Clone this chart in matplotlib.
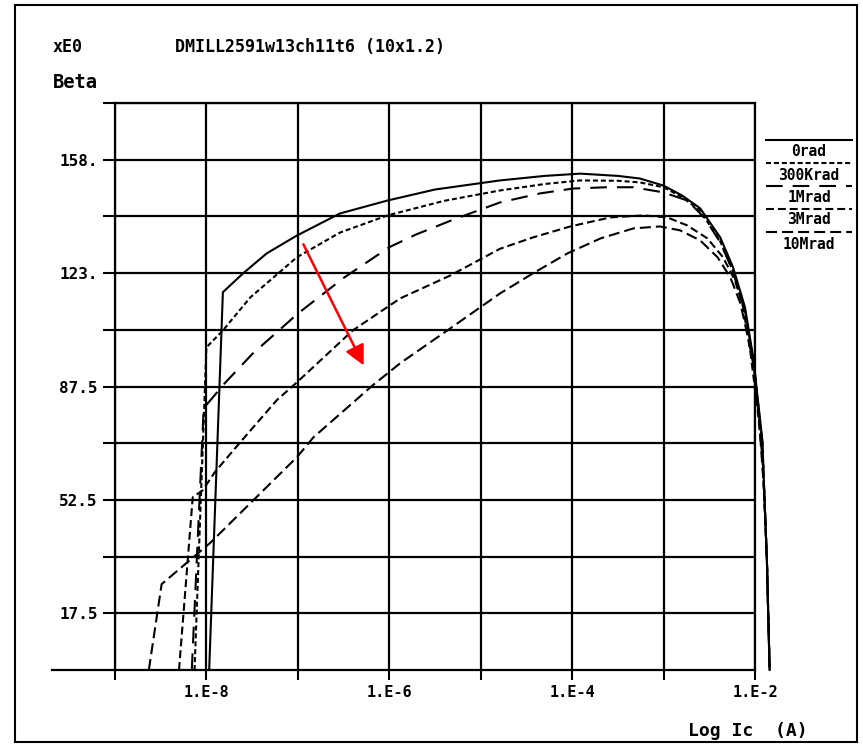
import matplotlib
matplotlib.use("Agg")
import matplotlib.pyplot as plt
from matplotlib.lines import Line2D
from matplotlib.patches import Rectangle

# log10(Ic) and Beta
logic_0rad = [-7.97, -7.82, -7.60, -7.34, -7.01, -6.54, -6.02, -5.50, -4.79, -4.30,
              -3.91, -3.50, -3.26, -3.00, -2.80, -2.60, -2.38, -2.24, -2.11, -2.02,
              -1.92, -1.87, -1.84]
beta_0rad = [0, 116.6, 122.4, 128.6, 134.1, 140.9, 144.9, 148.3, 151.1, 152.5,
             153.2, 152.5, 151.7, 149.5, 146.5, 142.5, 133.5, 124.3, 112.0, 96.5,
             71.0, 34.0, 0]

logic_300k = [-8.13, -8.00, -7.82, -7.52, -7.01, -6.54, -6.02, -5.40, -4.79, -4.30,
              -3.91, -3.50, -3.26, -3.00, -2.80, -2.60, -2.38, -2.24, -2.11, -2.02,
              -1.92, -1.87, -1.84]
beta_300k = [0, 99.6, 104.8, 115.0, 127.4, 135.0, 140.3, 144.8, 148.0, 150.0,
             151.1, 151.0, 150.5, 149.0, 146.0, 141.8, 132.3, 123.0, 111.0, 95.5,
             70.5, 34.0, 0]

logic_1m = [-8.16, -8.03, -7.80, -7.50, -7.00, -6.50, -6.00, -5.70, -5.30, -4.79,
            -4.35, -3.99, -3.62, -3.33, -3.00, -2.74, -2.55, -2.38, -2.24, -2.11,
            -2.02, -1.92, -1.87, -1.84]
beta_1m = [0, 80.8, 88.5, 97.5, 110.0, 121.0, 130.5, 134.5, 139.0, 144.3,
           147.1, 148.6, 149.0, 149.0, 147.4, 144.9, 139.5, 132.0, 123.0, 111.0,
           95.5, 70.0, 34.0, 0]

logic_3m = [-8.30, -8.15, -8.04, -7.91, -7.63, -7.23, -7.01, -6.40, -5.88, -5.33,
            -4.79, -4.43, -4.02, -3.58, -3.22, -2.96, -2.74, -2.52, -2.35, -2.22,
            -2.13, -2.05, -1.97, -1.92, -1.87, -1.84]
beta_3m = [0, 53.3, 55.5, 61.0, 70.3, 83.3, 88.8, 104.8, 114.7, 121.8,
           130.0, 133.5, 136.9, 139.7, 140.3, 139.7, 137.2, 133.2, 127.4, 120.3,
           112.0, 98.0, 80.0, 66.0, 34.0, 0]

logic_10m = [-8.63, -8.49, -7.96, -7.01, -6.83, -6.18, -5.88, -5.33, -4.79, -4.43,
             -4.05, -3.69, -3.33, -3.04, -2.82, -2.60, -2.41, -2.27, -2.16, -2.07,
             -2.00, -1.95, -1.90, -1.87, -1.84]
beta_10m = [0, 26.5, 39.2, 65.7, 71.8, 87.9, 94.7, 105.5, 116.2, 122.4,
            128.6, 133.2, 136.3, 136.9, 135.7, 132.6, 127.4, 121.2, 113.2, 101.8,
            91.6, 75.0, 55.0, 34.0, 0]

dose_labels = ["0rad", "300Krad", "1Mrad", "3Mrad", "10Mrad"]

x_ticks = [-9, -8, -7, -6, -5, -4, -3, -2]
x_ticklabels = ["", "1.E-8", "", "1.E-6", "", "1.E-4", "", "1.E-2"]
y_ticks = [17.5, 35, 52.5, 70, 87.5, 105, 122.5, 140, 157.5, 175]
y_ticklabels = ["17.5", "", "52.5", "", "87.5", "", "123.", "", "158.", ""]

arrow_tail = (-6.94, 131.4)
arrow_head = (-6.28, 94.0)

W, H = 863, 747
FONT = "DejaVu Sans Mono"


def fx(px):
    return px / W


def fy(py):
    return 1 - py / H


def main():
    fig = plt.figure(figsize=(W / 100, H / 100), dpi=100)
    fig.patch.set_facecolor("white")
    ax = fig.add_axes([fx(115), fy(670), (755 - 115) / W, (670 - 103) / H])

    lw = 1.5
    styles = [
        (logic_0rad, beta_0rad, "-"),
        (logic_300k, beta_300k, (0, (2.4, 1.4))),
        (logic_1m, beta_1m, (0, (8.0, 4.8))),
        (logic_3m, beta_3m, (0, (3.8, 1.9))),
        (logic_10m, beta_10m, (0, (5.3, 2.4))),
    ]
    for xs, ys, ls in styles:
        ax.plot(xs, ys, color="black", lw=lw, linestyle=ls, clip_on=False, zorder=3)

    ax.set_xlim(-9, -2)
    ax.set_ylim(0, 175)
    ax.set_xticks(x_ticks)
    ax.set_xticklabels(x_ticklabels, fontfamily=FONT, fontsize=11, fontweight="bold")
    ax.set_yticks(y_ticks)
    ax.set_yticklabels(y_ticklabels, fontfamily=FONT, fontsize=11.5, fontweight="bold")
    ax.tick_params(axis="x", direction="out", length=7, width=1.5, pad=4)
    ax.tick_params(axis="y", direction="out", length=8.5, width=1.5, pad=4)
    ax.grid(True, color="black", lw=1.6)
    for sp in ax.spines.values():
        sp.set_linewidth(1.6)
        sp.set_color("black")

    # red arrow showing the dose trend
    ax.annotate("", xy=arrow_head, xytext=arrow_tail,
                arrowprops=dict(arrowstyle="-|>", color="red", lw=1.8,
                                mutation_scale=30, shrinkA=0, shrinkB=0), zorder=5)

    # baseline running left past the axis, as in the plotter output
    fig.add_artist(Line2D([fx(52), fx(115)], [fy(670), fy(670)],
                          color="black", lw=1.6, transform=fig.transFigure))

    # texts
    fig.text(fx(53), fy(47), "xE0", fontfamily=FONT, fontsize=12,
             fontweight="bold", va="center", ha="left")
    fig.text(fx(53), fy(82), "Beta", fontfamily=FONT, fontsize=13.5,
             fontweight="bold", va="center", ha="left")
    fig.text(fx(175), fy(47), "DMILL2591w13ch11t6 (10x1.2)", fontfamily=FONT,
             fontsize=12, fontweight="bold", va="center", ha="left")
    fig.text(fx(808), fy(731), "Log Ic  (A)", fontfamily=FONT, fontsize=13,
             fontweight="bold", va="center", ha="right")

    # legend built from line samples with the label below each
    leg_line_y = [140, 163, 186, 209, 232]
    leg_text_y = [151, 175, 197, 220, 244]
    for (_, _, ls), ly, ty, lab in zip(styles, leg_line_y, leg_text_y, dose_labels):
        fig.add_artist(Line2D([fx(766), fx(852)], [fy(ly), fy(ly)], color="black",
                              lw=lw, linestyle=ls, transform=fig.transFigure))
        fig.text(fx(809), fy(ty), lab, fontfamily=FONT, fontsize=10.5,
                 fontweight="bold", va="center", ha="center")

    # outer page frame
    fig.add_artist(Rectangle((fx(15), fy(742)), fx(857) - fx(15), fy(5) - fy(742),
                             fill=False, edgecolor="black", lw=1.5,
                             transform=fig.transFigure))

    fig.savefig("out.png", dpi=100, facecolor="white")


if __name__ == "__main__":
    main()
